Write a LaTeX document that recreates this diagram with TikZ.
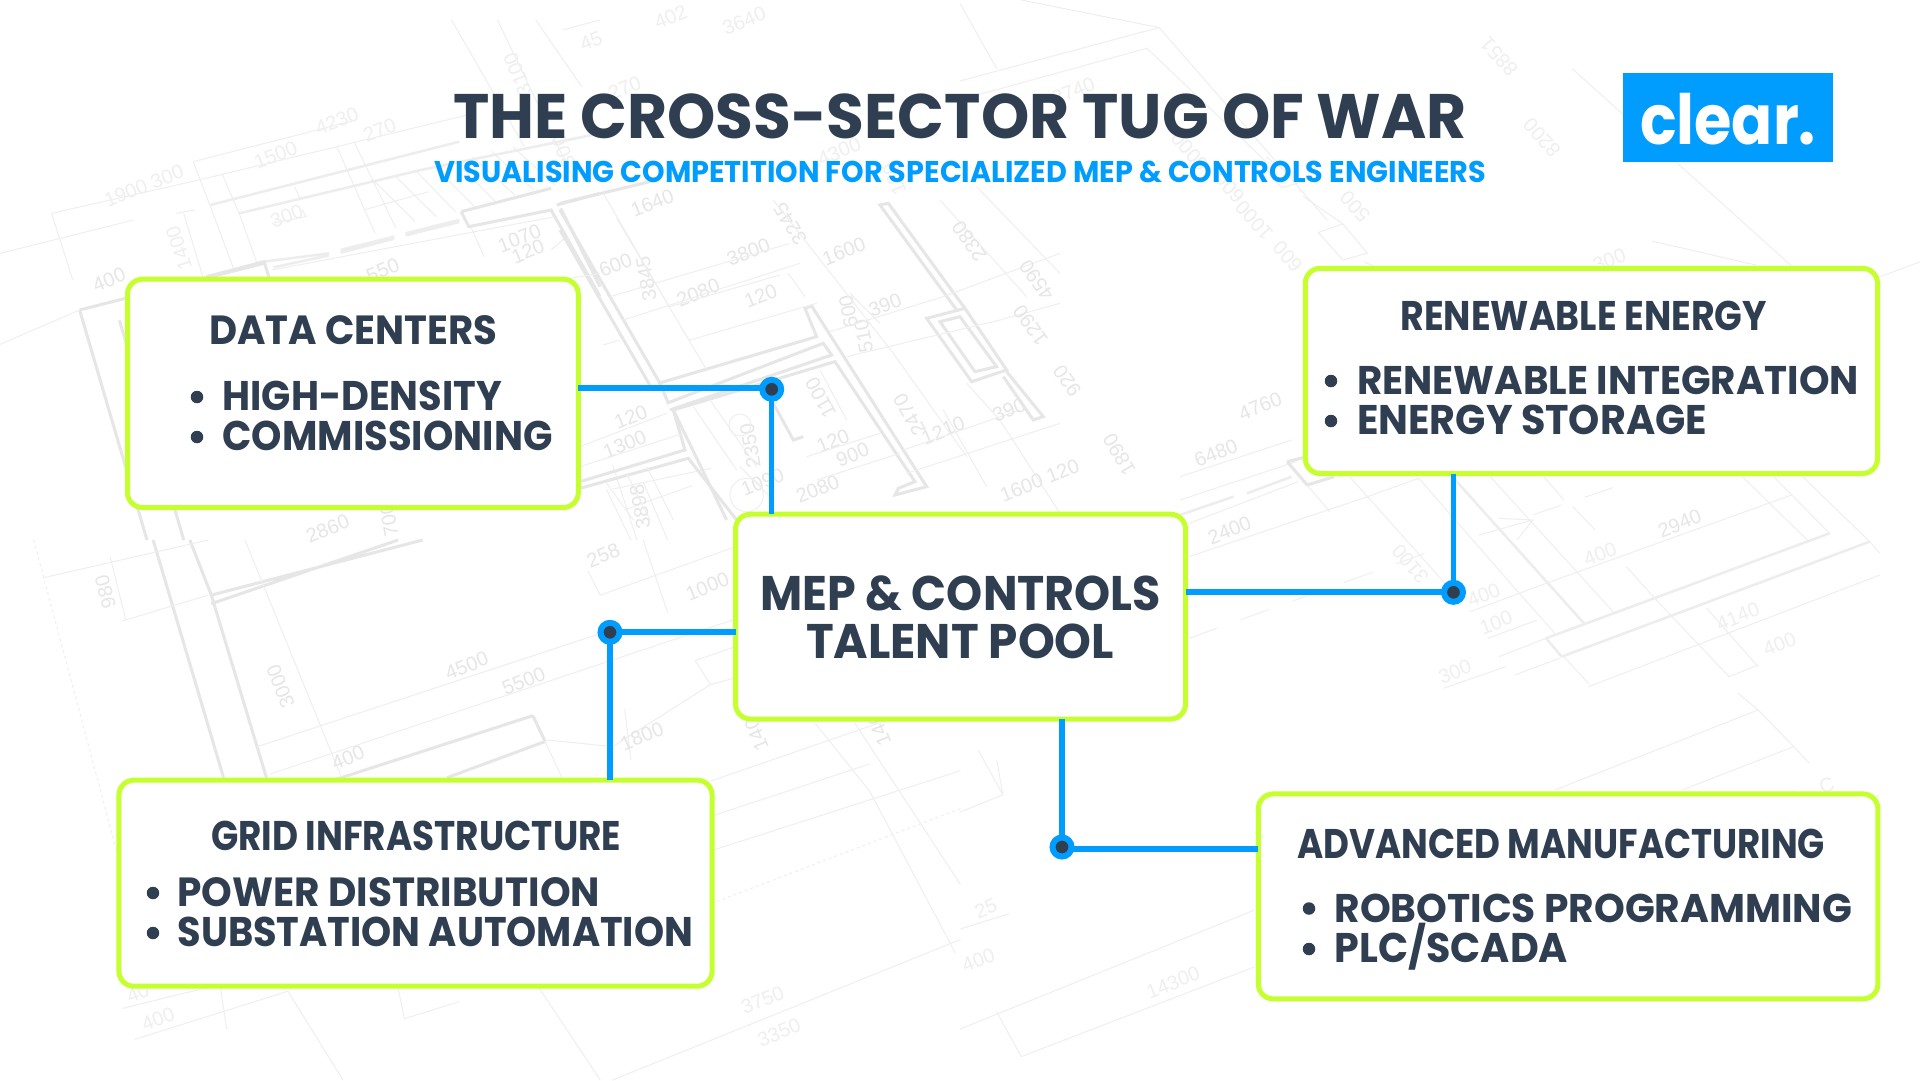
\documentclass[tikz,border=0pt]{standalone}
\usepackage{fontspec}
\usepackage{graphicx}
\setmainfont{Poppins}
\newfontfamily\labfont{Liberation Sans}
\definecolor{navy}{HTML}{2F3E50}
\definecolor{lime}{HTML}{C6FF2E}
\definecolor{sky}{HTML}{009DFF}
\definecolor{wallc}{HTML}{E6E6E6}
\definecolor{wallfar}{HTML}{EDEDED}
\definecolor{thinc}{HTML}{EFEFEF}
\definecolor{labc}{HTML}{E6E6E6}
\definecolor{labfar}{HTML}{EFEFEF}
\tikzset{
  cardbox/.style={draw=lime,line width=5pt,fill=white,rounded corners=15pt,inner sep=0pt,outer sep=0pt},
  linkh/.style={draw=sky,line width=6pt},
  linkv/.style={draw=sky,line width=5.5pt},
  dotnode/.style={circle,fill=navy,draw=sky,line width=6pt,minimum size=19pt,inner sep=0pt,outer sep=0pt},
  wall/.style={draw=wallc,line width=3pt},
  farwall/.style={draw=wallfar,line width=2.5pt},
  thin line/.style={draw=thinc,line width=1pt},
  q1/.style={xscale=0.6125,yscale=0.3444},
  q2/.style={shift={(960,0)},xscale=0.6125,yscale=0.3444},
  q3/.style={shift={(0,540)},xscale=0.6125,yscale=0.3444},
  q4/.style={shift={(960,540)},xscale=0.6125,yscale=0.3444},
  zc/.style={shift={(560,180)},xscale=0.3333,yscale=0.3333},
  zr/.style={shift={(1180,440)},xscale=0.4464,yscale=0.3333},
  zt/.style={shift={(0,20)},xscale=0.3827,yscale=0.3333},
  bglabel/.style={text=labc,inner sep=0pt,font=\labfont\fontsize{20}{20}\selectfont},
}
% fitted text: name, x0, top, x1, bottom, colour, text
\newcommand{\fittext}[7]{%
  \pgfmathsetmacro{\fitW}{#4-#2}\pgfmathsetmacro{\fitH}{#5-#3}%
  \node[anchor=base west,inner sep=0pt,outer sep=0pt,text=#6] (#1) at (#2,#5)
    {\resizebox{\fitW pt}{\fitH pt}{\rule{0pt}{7pt}\smash{\bfseries #7}}};}
\newcommand{\bulletdot}[3]{\node[circle,fill=navy,minimum size=12.5pt,inner sep=0pt] (#1) at (#2,#3) {};}
\newcounter{labn}
\newcommand{\lab}[4]{\stepcounter{labn}\node[bglabel,rotate=#3] (lab\thelabn) at (#1,#2) {#4};}
\newcommand{\labf}[4]{\stepcounter{labn}\node[bglabel,text=labfar,rotate=#3] (lab\thelabn) at (#1,#2) {#4};}
\begin{document}
\begin{tikzpicture}[x=1pt,y=-1pt]
\useasboundingbox (0,0) rectangle (1920,1080);
\fill[white] (0,0) rectangle (1920,1080);

% ---- blueprint: top-left stairs
\begin{scope}[zt]
\draw[thin line] (135,580)--(520,480)--(880,380)--(1240,280) (505,425)--(930,300) (135,580)--(190,780) (505,425)--(550,560)--(610,745) (580,460)--(625,580)--(670,725);
\draw[thin line] (880,380)--(980,640) (925,365)--(1035,625) (975,480)--(1085,605) (1030,465)--(1140,590) (1085,450)--(1190,575) (1135,440)--(1240,560) (1190,425)--(1295,545) (1235,410)--(1345,525) (1285,395)--(1395,510) (1340,380)--(1450,495);
\draw[thin line] (950,570)--(1120,515) (480,580)--(530,770) (460,580)--(510,570) (770,500)--(785,540) (790,570)--(800,590)--(710,610) (710,750)--(1450,590) (1230,620)--(1265,710) (1440,690)--(1480,650) (0,700)--(350,600);
\draw[thin line] (1180,0)--(1370,380) (1300,0)--(1500,480) (1400,0)--(1520,200) (1470,30)--(1568,0);
\draw[farwall] (550,555)--(1200,365) (625,580)--(1100,450)--(1568,340);
\draw[farwall] (690,725)--(860,700) (890,690)--(1030,650) (1060,640)--(1200,600) (715,742)--(860,706) (890,698)--(1030,656) (1060,646)--(1200,606);
\draw[wall] (1205,575)--(1225,620)--(1440,570)--(1568,830) (1205,575)--(1440,505) (1455,555)--(1568,520) (1465,565)--(1568,800);
\draw[wall] (540,770)--(690,725)--(705,780);
\end{scope}

% ---- blueprint: left-hand room, walls and labels of the top-left quarter
\begin{scope}[q1]
\draw[wall] (130,900)--(430,765) (130,900)--(240,1568) (195,930)--(300,1568);
\draw[thin line] (0,1000)--(130,900) (1000,1350)--(1040,1568);
\draw[thin line] (1000,1420)--(1160,1360) (1020,1480)--(1130,1410) (990,1420)--(1030,1568) (1050,1400)--(1090,1568);
\labf{235}{540}{22}{1900 300}\labf{468}{628}{22}{300}\labf{292}{720}{108}{1400}\lab{178}{812}{22}{400}
\labf{450}{450}{22}{1500}\labf{550}{352}{22}{4230}\labf{620}{378}{22}{270}\lab{848}{692}{22}{1070}\lab{862}{730}{22}{120}
\lab{1065}{590}{22}{1640}\lab{1290}{650}{122}{3245}\lab{1222}{732}{22}{3800}\lab{1378}{730}{22}{1600}\lab{1005}{770}{22}{600}
\lab{1055}{810}{100}{3845}\lab{1140}{850}{22}{2080}\lab{1242}{860}{22}{120}\lab{1385}{905}{100}{600}\lab{1445}{885}{22}{390}
\lab{1410}{975}{100}{510}\lab{1340}{1155}{118}{1100}\lab{1485}{1205}{120}{2470}\lab{1540}{1250}{22}{1210}\lab{1030}{1210}{22}{120}
\lab{1020}{1290}{22}{1300}\lab{1225}{1295}{100}{2350}\lab{1245}{1400}{22}{1090}\lab{1360}{1280}{22}{120}\lab{1392}{1320}{22}{900}
\lab{1335}{1420}{22}{2080}\lab{1045}{1470}{100}{3898}\lab{535}{1535}{22}{2860}\lab{635}{1510}{100}{700}\labf{845}{215}{112}{3100}
\labf{965}{120}{22}{45}\labf{1095}{50}{22}{402}\labf{1215}{60}{22}{3640}\labf{1020}{255}{22}{270}\labf{1370}{440}{22}{4300}\lab{625}{785}{22}{550}
\labf{1460}{520}{112}{120}\labf{920}{440}{112}{300}
\end{scope}

% ---- blueprint: centre, seen above the talent pool
\begin{scope}[zc]
\draw[wall] (0,90)--(300,610)--(325,670) (0,150)--(275,625);
\draw[wall] (0,70)--(290,0);
\draw[wall] (295,610)--(770,470)--(735,385)--(755,378)--(1100,920)--(1005,945)--(1015,925)--(1065,905)--(825,545)--(340,690)--(375,810)--(60,905);
\draw[wall] (320,670)--(790,490)--(815,525)--(330,690);
\draw[wall] (60,925)--(385,835)--(530,1020);
\draw[wall] (340,690)--(500,1020);
\draw[wall] (640,670)--(700,780)--(730,770);
\draw[wall] (1100,415)--(1215,385)--(1340,570)--(1235,605)--cycle;
\draw[wall] (1140,425)--(1200,410)--(1310,560)--(1245,575)--cycle;
\draw[wall] (1215,385)--(985,70)--(960,75)--(1190,390) (985,70)--(1015,110);
\draw[wall] (1340,575)--(1450,710)--(1420,720)--(1330,590);
\draw[thin line] (130,40)--(380,470) (170,115)--(440,570) (685,280)--(735,350);
\draw[thin line] (150,350)--(690,190) (190,420)--(720,250) (330,380)--(660,285) (390,480)--(770,370);
\draw[thin line] (810,455)--(1150,350)--(1500,220) (860,530)--(1320,420)--(1500,370) (1030,810)--(1380,690) (1040,880)--(1500,730);
\draw[thin line] (640,60)--(1000,520)--(1220,830) (870,340)--(960,430) (1140,60)--(1400,350) (1250,20)--(1500,280);
\draw[thin line] (1150,690)--(1280,920) (1220,610)--(1320,720)--(1500,1000) (0,300)--(120,280) (130,495)--(180,480);
\draw[thin line] (60,800)--(320,700) (60,860)--(370,760) (740,830)--(960,760) (770,900)--(1020,820);
\draw[thin line] (400,680)--(530,870) (450,660)--(590,860) (540,860)--(640,960);
\draw[thin line] (780,570)--(860,720) (140,910)--(220,1020) (200,880)--(270,1020) (260,860)--(340,1020);
\draw[thin line] (540,735) circle[radius=33] (560,945) circle[radius=50];
\end{scope}

% ---- blueprint: top right quarter
\begin{scope}[q2]
\draw[thin line] (0,235)--(325,80)--(600,640) (0,290)--(305,140)--(500,470) (325,80)--(100,0) (0,10)--(60,200);
\draw[thin line] (500,455)--(555,530)--(525,545)--(490,470);
\draw[thin line] (560,570)--(625,650) (585,675)--(625,650)--(665,735)--(625,755)--cycle;
\draw[thin line] (660,760)--(800,880);
\draw[thin line] (620,1385)--(1568,760) (1000,200)--(1500,1000) (1130,700)--(1300,770);
\labf{185}{265}{22}{2740}\labf{375}{440}{132}{6000}\labf{440}{545}{132}{600}\labf{480}{640}{132}{1000}\labf{535}{745}{132}{600}
\labf{645}{600}{132}{500}\labf{950}{400}{132}{8200}\labf{880}{165}{132}{8851}\labf{1060}{755}{22}{300}
\lab{125}{815}{125}{4590}\lab{115}{945}{125}{1290}\lab{175}{1105}{125}{920}\lab{80}{1190}{22}{390}\lab{260}{1320}{120}{1890}
\lab{130}{1395}{22}{1600 120}\lab{418}{1315}{22}{6480}\lab{490}{1180}{22}{4760}\lab{440}{1540}{22}{2400}\lab{1175}{1520}{22}{2940}
\lab{15}{700}{125}{2380}
\end{scope}

% ---- blueprint: bottom left quarter
\begin{scope}[q3]
\draw[wall] (250,0)--(365,690) (310,0)--(345,160)--(435,690);
\draw[wall] (345,160)--(690,0) (345,185)--(650,0);
\draw[wall] (870,510)--(540,700) (890,585)--(730,690) (870,510)--(890,585);
\draw[thin line] (890,580)--(1000,600) (180,50)--(205,230) (70,110)--(340,0) (200,235)--(340,160);
\draw[thin line] (400,0)--(560,700) (420,600)--(1000,260) (440,680)--(1200,230) (890,585)--(920,700);
\draw[thin line] (960,90)--(980,160)--(1200,20) (1090,210)--(1050,0);
\draw[thin line] (1020,490)--(1030,640) (1000,600)--(1160,420) (1135,350)--(1160,420)--(1200,400) (1135,350)--(1200,310);
\draw[thin line] (1160,700)--(1568,450) (1165,800)--(1420,650) (1165,900)--(1568,670) (1420,730)--(1560,1200) (1330,530)--(1420,730) (1395,530)--(1568,1000);
\draw[thin line] (200,1360)--(360,1290) (220,1450)--(470,1310) (360,1300)--(370,1420) (470,1310)--(560,1568) (880,1300)--(980,1568);
\draw[thin line] (650,1300)--(660,1390)--(750,1340) (1000,1568)--(1568,1160);
\draw[thin line,dashed] (55,0)--(190,900) (1170,1050)--(1568,780);
\lab{172}{150}{105}{980}\lab{458}{425}{112}{3000}\lab{762}{365}{22}{4500}\lab{855}{410}{22}{5500}\lab{568}{632}{22}{400}
\lab{1048}{570}{22}{1800}\lab{985}{45}{22}{258}\lab{1155}{135}{22}{1000}\lab{1235}{565}{112}{140}\labf{258}{1390}{22}{400}
\labf{225}{1315}{22}{40}\labf{1245}{1335}{22}{3750}\labf{1272}{1430}{22}{3350}\lab{1435}{550}{112}{140}
\end{scope}

% ---- blueprint: right, below the renewable energy card
\begin{scope}[zr]
\draw[thin line] (0,110)--(250,0) (0,180)--(260,65) (20,250)--(265,125);
\draw[farwall] (0,225)--(120,170) (150,160)--(250,110);
\draw[wall] (240,65)--(285,135)--(345,110) (240,65)--(285,50);
\draw[thin line] (20,350)--(420,170)--(535,115) (285,135)--(335,215) (380,110)--(600,440) (535,115)--(760,460)--(840,580);
\draw[farwall] (610,110)--(905,550);
\draw[thin line] (695,110)--(970,515) (815,110)--(860,180) (880,200)--(930,270) (1000,380)--(1060,470)--(1230,710);
\draw[thin line] (1260,110)--(1405,300) (1330,110)--(1455,280) (1395,110)--(1545,305)--(1568,340);
\draw[farwall] (820,595)--(1455,280) (855,650)--(1545,305) (820,595)--(855,650);
\draw[thin line] (860,650)--(915,730) (650,515)--(820,430)--(1370,165) (690,595)--(800,540) (715,650)--(905,550) (750,705)--(850,655) (915,740)--(1568,405) (1230,710)--(1295,675) (590,745)--(730,680) (1180,505)--(1295,680);
\draw[thin line,dash pattern=on 30pt off 25pt] (20,595)--(580,325) (790,225)--(1020,120);
\draw[thin line] (840,1050)--(1295,810) (1125,1050)--(1375,920) (1250,760)--(1295,810)--(1375,920)--(1410,970);
\draw[thin line] (715,235)--(790,240)--(755,300) (670,285)--(790,240);
\draw[thin line] (1375,1050) arc[start angle=180,end angle=10,x radius=95,y radius=85];
\end{scope}

% ---- blueprint: bottom right quarter
\begin{scope}[q4]
\draw[thin line] (0,790)--(70,740)--(60,640) (30,610)--(70,740) (0,1420)--(480,1075) (100,1500)--(480,1240) (60,1370)--(100,1500) (0,1130)--(80,1085);
\labf{735}{70}{130}{3100}\labf{855}{160}{22}{400}\labf{875}{240}{22}{100}\labf{808}{382}{22}{300}\labf{1045}{40}{22}{400}
\labf{1270}{222}{22}{4140}\labf{1338}{302}{22}{400}\labf{42}{1070}{22}{25}\labf{30}{1220}{22}{400}\labf{348}{1285}{22}{14300}\labf{1415}{712}{22}{C}
\end{scope}

% ---- cards
\node[cardbox,minimum width=450.8pt,minimum height=228.3pt] (dc) at (352.9,393.35) {};
\node[cardbox,minimum width=572.2pt,minimum height=205.2pt] (re) at (1591.4,370.9) {};
\node[cardbox,minimum width=593.2pt,minimum height=206.1pt] (gi) at (415.5,883.15) {};
\node[cardbox,minimum width=619.6pt,minimum height=205pt] (am) at (1568.1,896.4) {};
\node[cardbox,minimum width=450pt,minimum height=204.8pt] (mep) at (960.5,616.6) {};

% ---- connectors
\coordinate (c1) at (771.7,389.3);
\coordinate (c1h) at (771.7,387.7);
\coordinate (c2) at (1453.5,592.3);
\coordinate (c3) at (610,632.3);
\coordinate (c4) at (1062,847);
\coordinate (c4h) at (1062,849);
\draw[linkh] (dc.east |- c1h) -- (c1h);
\draw[linkv] (c1) -- (c1 |- mep.north);
\draw[linkh] (mep.east |- c2) -- (c2);
\draw[linkv] (c2) -- (c2 |- re.south);
\draw[linkh] (mep.west |- c3) -- (c3);
\draw[linkv] (c3) -- (c3 |- gi.north);
\draw[linkv] (c4 |- mep.south) -- (c4);
\draw[linkh] (c4h) -- (c4h -| am.west);
\node[dotnode] (d1) at (c1) {};
\node[dotnode] (d2) at (c2) {};
\node[dotnode] (d3) at (c3) {};
\node[dotnode] (d4) at (c4) {};

% ---- title and logo
\fittext{title}{453}{94}{1467}{138}{navy}{THE CROSS-SECTOR TUG OF WAR}
\fittext{subtitle}{434.5}{161}{1486}{182}{sky}{VISUALISING COMPETITION FOR SPECIALIZED MEP \& CONTROLS ENGINEERS}
\fill[sky] (1622.5,73) rectangle (1833,162);
\fittext{logo}{1640}{95.5}{1816}{144}{white}{clear.}

% ---- card texts
\fittext{dct}{209}{315.5}{497}{344}{navy}{DATA CENTERS}
\bulletdot{dcb1}{197}{397}\bulletdot{dcb2}{197}{437}
\fittext{dc1}{222.5}{381}{502}{410}{navy}{HIGH-DENSITY}
\fittext{dc2}{222.5}{421}{552.5}{450}{navy}{COMMISSIONING}

\fittext{ret}{1400.5}{301}{1767}{330}{navy}{RENEWABLE ENERGY}
\bulletdot{reb1}{1331}{381}\bulletdot{reb2}{1331}{421}
\fittext{re1}{1357}{366}{1859}{394}{navy}{RENEWABLE INTEGRATION}
\fittext{re2}{1357}{405}{1707}{434}{navy}{ENERGY STORAGE}

\fittext{git}{211}{821}{621}{850}{navy}{GRID INFRASTRUCTURE}
\bulletdot{gib1}{153}{893}\bulletdot{gib2}{153}{933}
\fittext{gi1}{177.5}{877.5}{600}{906}{navy}{POWER DISTRIBUTION}
\fittext{gi2}{177.5}{917}{693}{946}{navy}{SUBSTATION AUTOMATION}

\fittext{amt}{1297}{829}{1825}{858}{navy}{ADVANCED MANUFACTURING}
\bulletdot{amb1}{1309}{908.5}\bulletdot{amb2}{1309}{949}
\fittext{am1}{1334.5}{894}{1852}{922}{navy}{ROBOTICS PROGRAMMING}
\fittext{am2}{1334.5}{933}{1568}{962}{navy}{PLC/SCADA}

\fittext{mep1}{760}{576}{1161}{610}{navy}{MEP \& CONTROLS}
\fittext{mep2}{806}{624}{1114}{658}{navy}{TALENT POOL}
\end{tikzpicture}
\end{document}
